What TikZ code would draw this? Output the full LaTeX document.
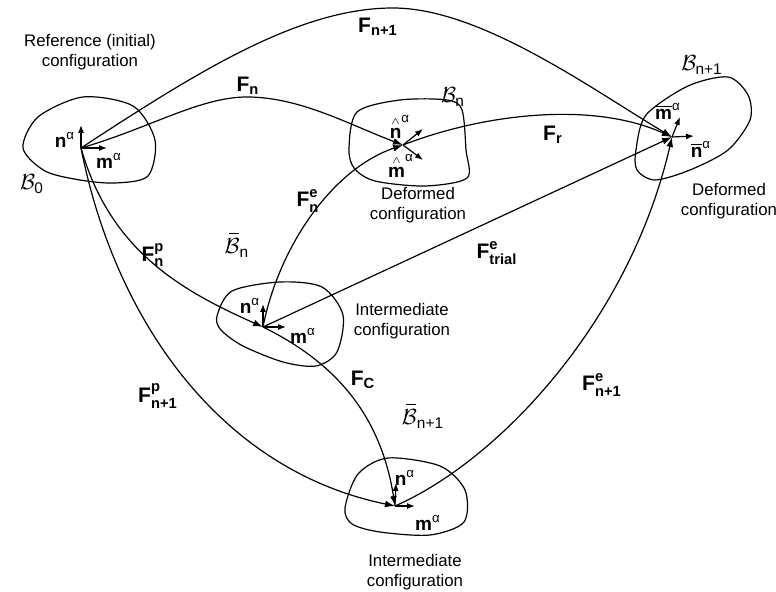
\documentclass[tikz,border=0pt]{standalone}
\usepackage{amsmath}
\usepackage{fontspec}
\setmainfont{Liberation Sans}
\usetikzlibrary{arrows.meta}

\begin{document}
\begin{tikzpicture}[x=0.5pt,y=-0.5pt,>={Latex[length=5pt,width=3.4pt]},
  map/.style={->,line width=0.6pt},
  vec/.style={->,line width=0.6pt,>={Latex[length=4pt,width=3pt]}},
  blob/.style={line width=0.6pt},
  conf/.style={align=center,inner sep=0pt,font=\fontsize{8.4}{10}\selectfont},
  flab/.style={inner sep=0pt,font=\fontsize{10.5}{12}\selectfont},
  vlab/.style={inner sep=0pt,font=\fontsize{9.5}{11}\selectfont},
  blab/.style={inner sep=0pt,font=\fontsize{11}{12}\selectfont}]
  \useasboundingbox (0,0) rectangle (776,592);

  % material points
  \coordinate (p0) at (81,148);
  \coordinate (pn) at (403,145);
  \coordinate (pn1) at (672,137);
  \coordinate (pi) at (263,327);
  \coordinate (pi1) at (395,506);

  % bodies
  \draw[blob] plot[smooth cycle] coordinates {(23,148) (38,117) (83,97) (133,106)
    (155,140) (148,176) (115,183) (80,180) (45,171)};
  \draw[blob] plot[smooth cycle] coordinates {(349,148) (357,112) (400,100) (447,100)
    (462,110) (466,150) (467,178) (425,186) (375,181) (354,168)};
  \draw[blob] plot[smooth cycle] coordinates {(636,150) (646,115) (688,86) (728,77)
    (748,95) (750,120) (728,150) (690,170) (655,180) (637,170)};
  \draw[blob] plot[smooth cycle] coordinates {(217,316) (232,291) (280,282) (322,287)
    (343,315) (337,352) (316,366) (283,362) (243,346) (221,330)};
  \draw[blob] plot[smooth cycle] coordinates {(345,508) (358,474) (388,458) (440,466)
    (465,490) (464,522) (430,535) (380,532) (352,524)};

  % maps
  \draw[map] (p0) .. controls (200,70) and (300,8) .. (393,8)
    .. controls (480,8) and (590,88) .. (pn1);
  \draw[map] (p0) .. controls (150,128) and (200,97) .. (247,97)
    .. controls (300,97) and (350,125) .. (pn);
  \draw[map] (pn) .. controls (480,115) and (590,100) .. (pn1);
  \draw[map] (p0) .. controls (110,250) and (180,290) .. (pi);
  \draw[map] (pi) .. controls (330,360) and (380,410) .. (pi1);
  \draw[map] (p0) .. controls (115,320) and (220,470) .. (pi1);
  \draw[map] (pi) .. controls (278,250) and (330,170) .. (pn);
  \draw[map] (pi) -- (pn1);
  \draw[map] (pi1) .. controls (500,460) and (630,320) .. (pn1);

  % director vectors
  \coordinate (p0n) at (81,125);
  \coordinate (p0m) at (107,148);
  \coordinate (pnn) at (423,129);
  \coordinate (pnm) at (423,160);
  \coordinate (pn1m) at (680,117);
  \coordinate (pn1n) at (694,136);
  \coordinate (pin) at (263,304);
  \coordinate (pim) at (286,327);
  \coordinate (pi1n) at (396,483);
  \coordinate (pi1m) at (415,506);
  \draw[vec] (p0) -- (p0n);
  \draw[vec] (p0) -- (p0m);
  \draw[vec] (pn) -- (pnn);
  \draw[vec] (pn) -- (pnm);
  \draw[vec] (pn1) -- (pn1m);
  \draw[vec] (pn1) -- (pn1n);
  \draw[vec] (pi) -- (pin);
  \draw[vec] (pi) -- (pim);
  \draw[vec] (pi1) -- (pi1n);
  \draw[vec] (pi1) -- (pi1m);

  % configuration texts
  \node[conf] (refconf) at (90,52) {Reference (initial)\\configuration};
  \node[conf] (defconf) at (418,205) {Deformed\\configuration};
  \node[conf] (defconf1) at (729,201) {Deformed\\configuration};
  \node[conf] (intconf) at (402,321) {Intermediate\\configuration};
  \node[conf] (intconf1) at (415,572) {Intermediate\\configuration};

  % body names
  \node[blab] (b0) at (32,184) {$\mathcal{B}_{\text{0}}$};
  \node[blab] (bn) at (453,97) {$\mathcal{B}_{\text{n}}$};
  \node[blab] (bn1) at (702,65) {$\mathcal{B}_{\text{n+1}}$};
  \node[blab] (bbn) at (237,244)
    {$\overset{\hspace{2pt}\rule{5pt}{0.7pt}}{\mathcal{B}}_{\text{n}}$};
  \node[blab] (bbn1) at (423,415)
    {$\overset{\hspace{2pt}\rule{5pt}{0.7pt}}{\mathcal{B}}_{\text{n+1}}$};

  % map names
  \node[flab] (fn1) at (378,27) {$\text{\bfseries F}_{\text{\bfseries n+1}}$};
  \node[flab] (fn) at (248,86) {$\text{\bfseries F}_{\text{\bfseries n}}$};
  \node[flab] (fr) at (553,135) {$\text{\bfseries F}_{\text{\bfseries r}}$};
  \node[flab] (fne) at (308,201) {$\text{\bfseries F}^{\text{\bfseries e}}_{\text{\bfseries n}}$};
  \node[flab] (ftr) at (497,253) {$\text{\bfseries F}^{\text{\bfseries e}}_{\text{\bfseries trial}}$};
  \node[flab] (fnp) at (153,255) {$\text{\bfseries F}^{\text{\bfseries p}}_{\text{\bfseries n}}$};
  \node[flab] (fc) at (363,380) {$\text{\bfseries F}_{\text{\bfseries C}}$};
  \node[flab] (fn1p) at (158,396) {$\text{\bfseries F}^{\text{\bfseries p}}_{\text{\bfseries n+1}}$};
  \node[flab] (fn1e) at (602,385) {$\text{\bfseries F}^{\text{\bfseries e}}_{\text{\bfseries n+1}}$};

  % vector names
  \node[vlab] (l0n) at (65,140) {$\text{\bfseries n}^{\text{α}}$};
  \node[vlab] (l0m) at (109,161) {$\text{\bfseries m}^{\text{α}}$};
  \node[vlab] (lnn) at (400,127)
    {$\overset{\scriptscriptstyle\wedge}{\text{\bfseries n}}^{\text{α}}$};
  \node[vlab] (lnm) at (401,166)
    {$\overset{\scriptscriptstyle\wedge}{\text{\bfseries m}}^{\text{α}}$};
  \node[vlab] (ln1m) at (668,111) {$\overline{\text{\bfseries m}}^{\text{α}}$};
  \node[vlab] (ln1n) at (701,149) {$\overline{\text{\bfseries n}}^{\text{α}}$};
  \node[vlab] (lin) at (250,306) {$\text{\bfseries n}^{\text{α}}$};
  \node[vlab] (lim) at (303,336) {$\text{\bfseries m}^{\text{α}}$};
  \node[vlab] (li1n) at (405,478) {$\text{\bfseries n}^{\text{α}}$};
  \node[vlab] (li1m) at (428,523) {$\text{\bfseries m}^{\text{α}}$};
\end{tikzpicture}
\end{document}
